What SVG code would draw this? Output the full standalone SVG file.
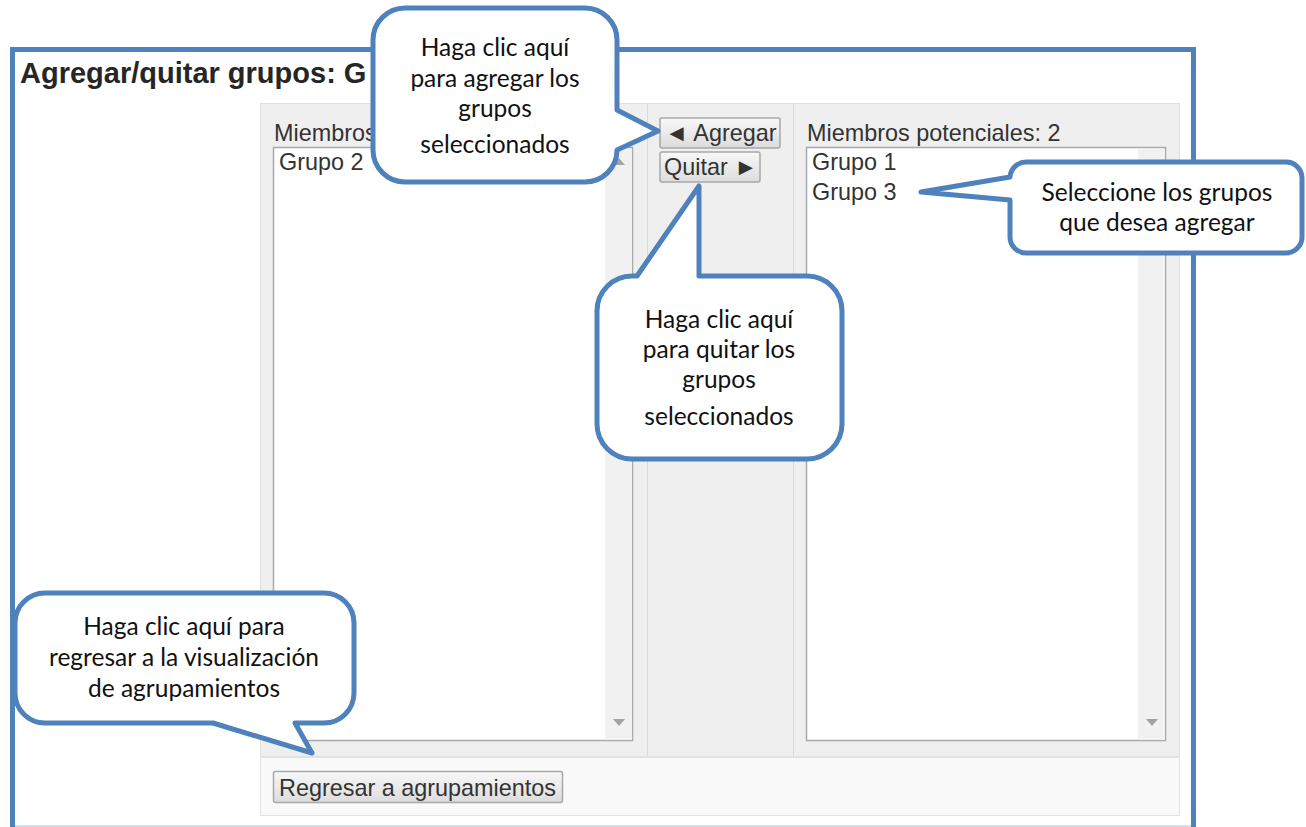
<svg xmlns="http://www.w3.org/2000/svg" width="1306" height="827" viewBox="0 0 1306 827">
<defs>
<linearGradient id="btn" x1="0" y1="0" x2="0" y2="1">
<stop offset="0" stop-color="#F8F8F8"/>
<stop offset="1" stop-color="#DCDCDC"/>
</linearGradient>
<style>
.ui{font-family:"Liberation Sans",Arial,sans-serif;font-size:23.4px;fill:#333}
.title{font-family:"Liberation Sans",Arial,sans-serif;font-size:29px;font-weight:bold;fill:#262626}
.co{fill:#FFFFFF;stroke:#4F81BD;stroke-width:5;stroke-linejoin:round}
.ct{font-family:Lato,"Noto Sans",sans-serif;font-size:24.5px;fill:#111;text-anchor:middle}
.btn{fill:url(#btn);stroke:#A8A8A8;stroke-width:1.5}
.list{fill:#FFFFFF;stroke:#A9A9A9;stroke-width:1.5}
.sb{fill:#F1F1F1}
.arr{fill:#A3A3A3}
</style>
</defs>
<rect width="1306" height="827" fill="#FFFFFF"/>

<g id="frame">
<path d="M12.5,830 V49.5 H1193.5 V830" fill="none" stroke="#4F81BD" stroke-width="5"/>
<line x1="15" y1="826" x2="1191" y2="826" stroke="#D3DEEF" stroke-width="2"/>
<text class="title" x="20" y="83">Agregar/quitar grupos: G</text>
</g>

<g id="panel">
<rect x="260.5" y="103.5" width="919" height="653" fill="#EFEFEF" stroke="#E0E0E0"/>
<line x1="647.5" y1="104" x2="647.5" y2="756" stroke="#DADADA"/>
<line x1="793.5" y1="104" x2="793.5" y2="756" stroke="#DADADA"/>
<rect x="260.5" y="757.5" width="919" height="58" fill="#F9F9F9" stroke="#E3E3E3"/>
</g>

<g id="left-list">
<text class="ui" x="274" y="141">Miembros</text>
<rect class="list" x="273.5" y="147.5" width="359" height="593"/>
<rect class="sb" x="605" y="149" width="27" height="591"/>
<path class="arr" d="M613,165 L625,165 L619,158 Z"/>
<path class="arr" d="M613,719 L625,719 L619,726 Z"/>
<text class="ui" x="279" y="170">Grupo 2</text>
</g>

<g id="btn-agregar">
<rect class="btn" x="660" y="118" width="120" height="30" rx="2"/>
<text class="ui" x="665" y="141">◄ Agregar</text>
</g>

<g id="btn-quitar">
<rect class="btn" x="660" y="152" width="100" height="30" rx="2"/>
<text class="ui" x="664" y="175">Quitar ►</text>
</g>

<g id="right-list">
<text class="ui" x="807" y="141">Miembros potenciales: 2</text>
<rect class="list" x="806.5" y="147.5" width="359" height="593"/>
<rect class="sb" x="1138" y="149" width="27" height="591"/>
<path class="arr" d="M1146,719 L1158,719 L1152,726 Z"/>
<text class="ui" x="812" y="170">Grupo 1</text>
<text class="ui" x="812" y="200">Grupo 3</text>
</g>

<g id="btn-regresar">
<rect class="btn" x="273.5" y="771.5" width="289" height="31" rx="2"/>
<text class="ui" x="279" y="796">Regresar a agrupamientos</text>
</g>

<g id="connectors"></g>

<g id="callout-agregar">
<path class="co" d="M405,8 H585 A32,32 0 0 1 617,40 V110 L658,131 L617,150 A32,32 0 0 1 585,182 H405 A32,32 0 0 1 373,150 V40 A32,32 0 0 1 405,8 Z"/>
<text class="ct" x="495" y="56">Haga clic aquí</text>
<text class="ct" x="495" y="87">para agregar los</text>
<text class="ct" x="495" y="117">grupos</text>
<text class="ct" x="495" y="153">seleccionados</text>
</g>

<g id="callout-quitar">
<path class="co" d="M597,311 A35,35 0 0 1 632,276 H637 L699,186 V276 H807 A35,35 0 0 1 842,311 V424 A35,35 0 0 1 807,459 H632 A35,35 0 0 1 597,424 Z"/>
<text class="ct" x="719" y="328">Haga clic aquí</text>
<text class="ct" x="719" y="358">para quitar los</text>
<text class="ct" x="719" y="388">grupos</text>
<text class="ct" x="719" y="425">seleccionados</text>
</g>

<g id="callout-seleccione">
<path class="co" d="M1026,162 H1286 A16,16 0 0 1 1302,178 V237 A16,16 0 0 1 1286,253 H1026 A16,16 0 0 1 1010,237 V200 L921,192 L1010,177 A16,16 0 0 1 1026,162 Z"/>
<text class="ct" x="1157" y="201">Seleccione los grupos</text>
<text class="ct" x="1157" y="231">que desea agregar</text>
</g>

<g id="callout-regresar">
<path class="co" d="M45,593 H324 A30,30 0 0 1 354,623 V693 A30,30 0 0 1 324,723 H295 L312,753 L213,723 H45 A30,30 0 0 1 15,693 V623 A30,30 0 0 1 45,593 Z"/>
<text class="ct" x="184" y="635">Haga clic aquí para</text>
<text class="ct" x="184" y="666">regresar a la visualización</text>
<text class="ct" x="184" y="697">de agrupamientos</text>
</g>
</svg>
